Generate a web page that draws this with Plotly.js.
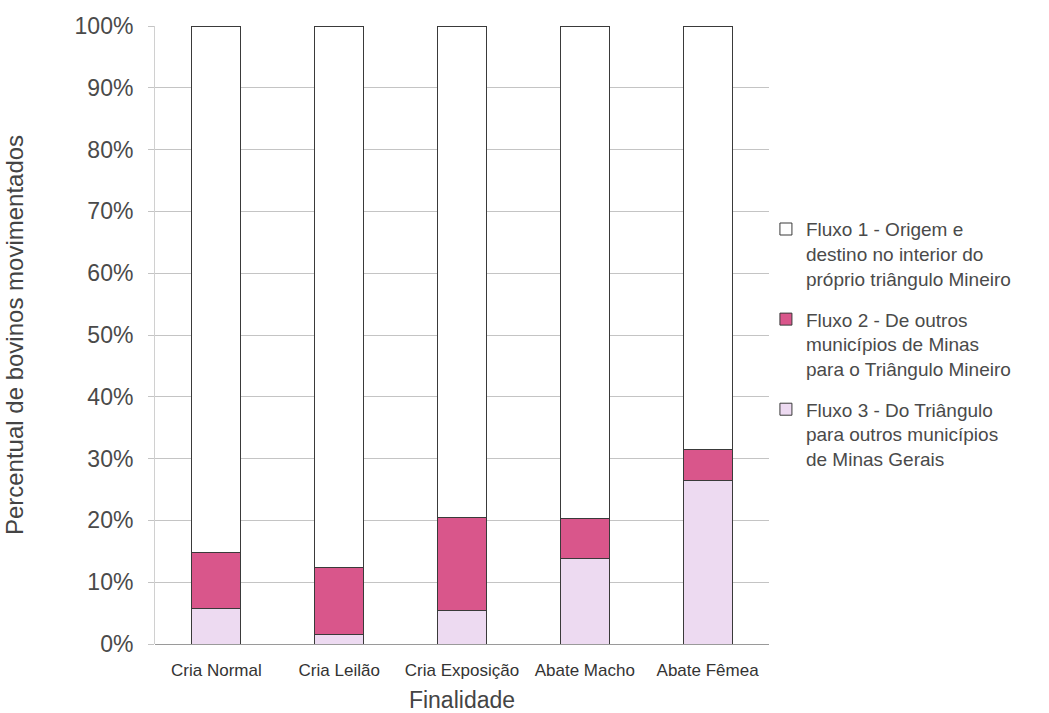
<!DOCTYPE html>
<html>
<head>
<meta charset="utf-8">
<script src="https://cdn.plot.ly/plotly-3.0.1.min.js"></script>
<style>
  html, body { margin: 0; padding: 0; background: #ffffff; }
  #chart { width: 1049px; height: 713px; }
</style>
</head>
<body>
<div id="chart"></div>
<script>
// Finalidade das movimentações de bovinos
const categorias = ['Cria Normal', 'Cria Leilão', 'Cria Exposição', 'Abate Macho', 'Abate Fêmea'];

// Percentuais por fluxo (cada coluna soma 100%)
const fluxo3 = [5.7, 1.6, 5.4, 13.8, 26.4];
const fluxo2 = [9.1, 10.8, 15.1, 6.5, 5.0];
const fluxo1 = [85.2, 87.6, 79.5, 79.7, 68.6];

const nomes = [
  'Fluxo 1 - Origem e<br>destino no interior do<br>próprio triângulo Mineiro',
  'Fluxo 2 - De outros<br>municípios de Minas<br>para o Triângulo Mineiro',
  'Fluxo 3 - Do Triângulo<br>para outros municípios<br>de Minas Gerais'
];

const contorno = { color: '#3a3a3a', width: 1 };

// Empilhamento de baixo para cima: Fluxo 3, Fluxo 2, Fluxo 1
const traces = [
  { type: 'bar', x: categorias, y: fluxo3, name: nomes[2], legendgroup: 'f3', legendrank: 3,
    marker: { color: '#eddaf1', line: contorno } },
  { type: 'bar', x: categorias, y: fluxo2, name: nomes[1], legendgroup: 'f2', legendrank: 2,
    marker: { color: '#d9568b', line: contorno } },
  { type: 'bar', x: categorias, y: fluxo1, name: nomes[0], legendgroup: 'f1', legendrank: 1,
    marker: { color: '#ffffff', line: contorno } }
];

const layout = {
  width: 1049, height: 713,
  paper_bgcolor: '#ffffff', plot_bgcolor: '#ffffff',
  margin: { l: 155, r: 280, t: 26, b: 69 },
  barmode: 'stack',
  bargap: 0.6,
  font: { family: 'Liberation Sans, Arial, sans-serif', color: '#333333' },
  xaxis: {
    type: 'category',
    showgrid: false, zeroline: false, showline: false,
    ticks: '', ticklabelstandoff: 14,
    tickfont: { size: 17, color: '#333333' },
    title: { text: 'Finalidade', font: { size: 23, color: '#444444' }, standoff: 14 }
  },
  yaxis: {
    range: [0, 100], dtick: 10, ticksuffix: '%',
    showgrid: true, gridcolor: '#c4c4c4', gridwidth: 1,
    zeroline: true, zerolinecolor: '#9a9a9a',
    showline: true, linecolor: '#d0d0d0', linewidth: 1,
    ticks: 'outside', ticklen: 6, tickcolor: '#c4c4c4',
    ticklabelstandoff: 10,
    tickfont: { size: 23, color: '#4a4a4a' },
    title: { text: 'Percentual de bovinos movimentados', font: { size: 24, color: '#444444' }, standoff: 44 }
  },
  showlegend: true,
  legend: {
    x: 0.995, y: 0.702, xanchor: 'left', yanchor: 'top',
    traceorder: 'grouped',
    tracegroupgap: 13,
    valign: 'top',
    font: { size: 19, color: '#4a4a4a' },
    bgcolor: 'rgba(0,0,0,0)', borderwidth: 0,
    itemwidth: 30
  }
};

Plotly.newPlot('chart', traces, layout, { displayModeBar: false, staticPlot: true });
</script>
</body>
</html>
